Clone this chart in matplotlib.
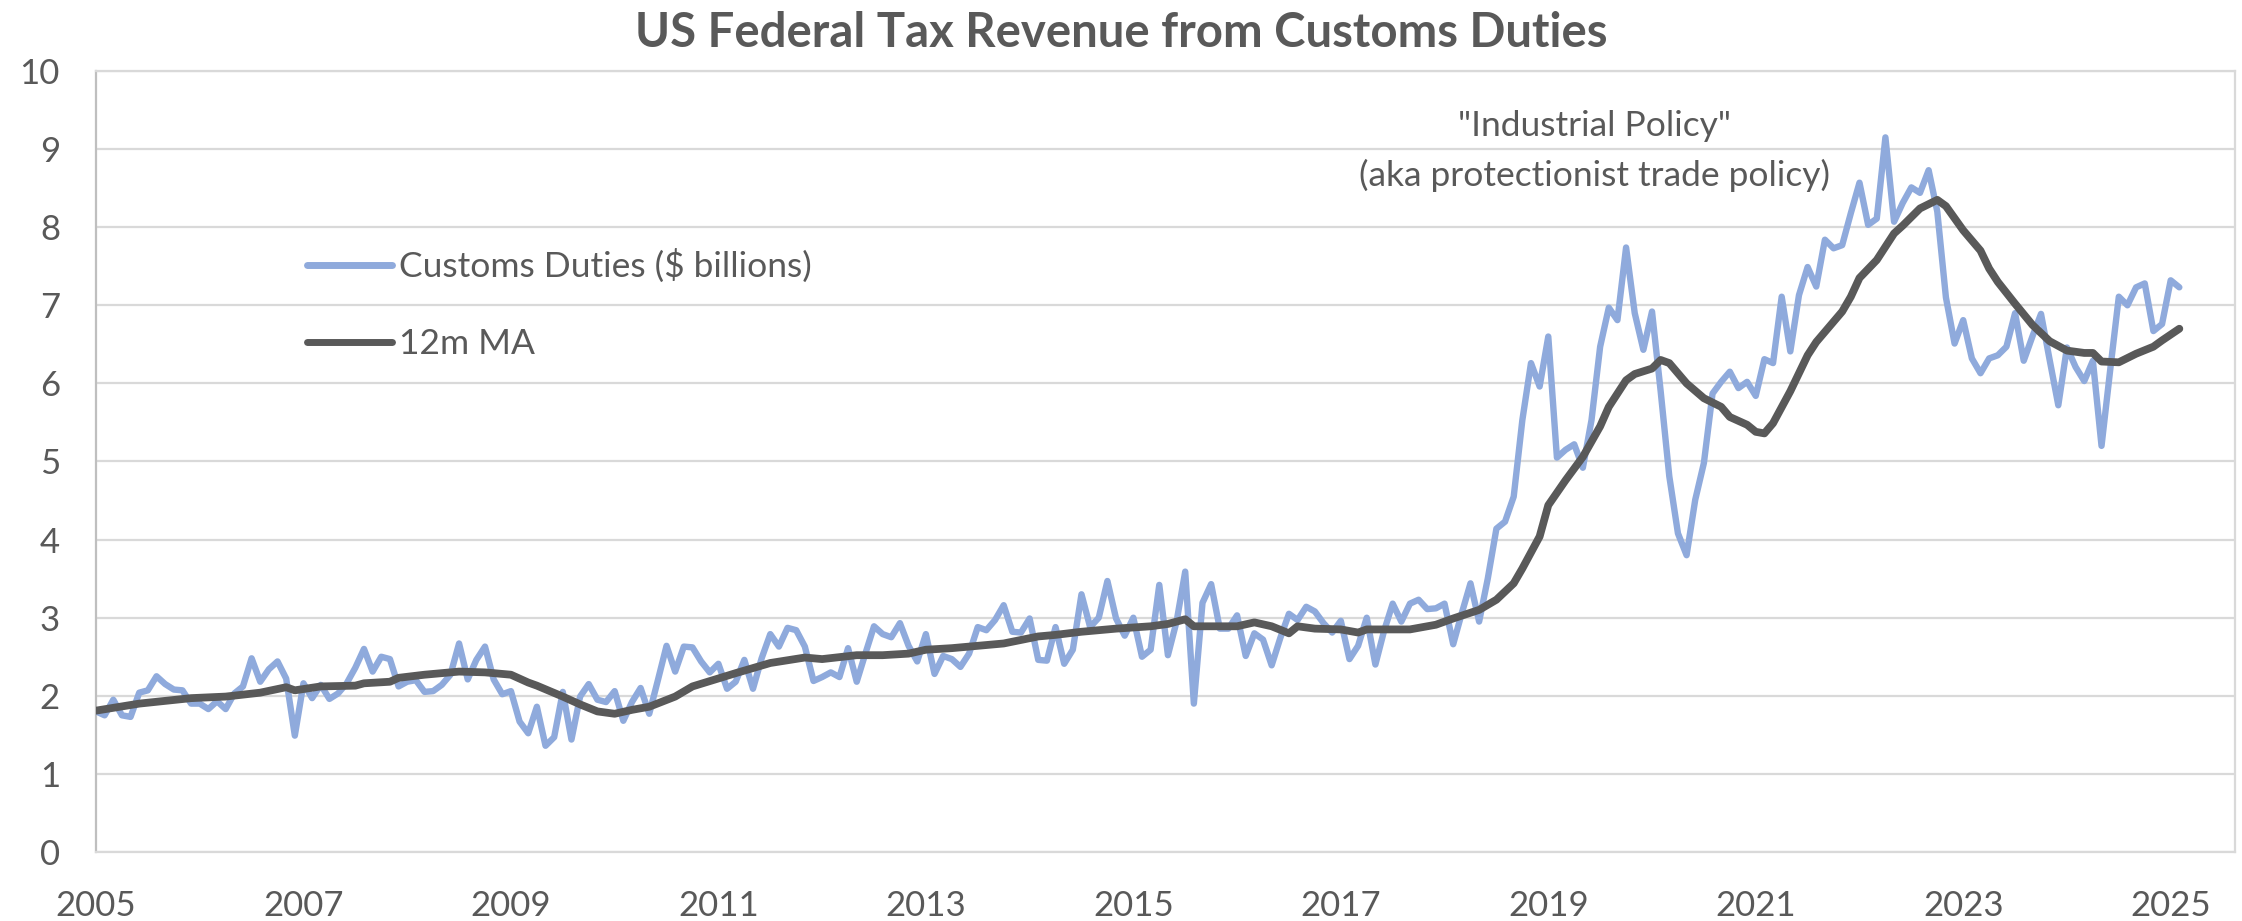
import numpy as np
import pandas as pd
import matplotlib
matplotlib.use("Agg")
import matplotlib.pyplot as plt
from matplotlib.lines import Line2D

# monthly customs duties, $ billions, Jan 2005 .. Feb 2025
customs = [
    1.80, 1.75, 1.95, 1.75, 1.73, 2.04, 2.07, 2.25, 2.15, 2.08, 2.07, 1.90,
    1.90, 1.83, 1.93, 1.83, 2.03, 2.12, 2.48, 2.18, 2.34, 2.44, 2.22, 1.49,
    2.16, 1.97, 2.14, 1.96, 2.03, 2.16, 2.36, 2.60, 2.31, 2.50, 2.47, 2.12,
    2.18, 2.20, 2.05, 2.06, 2.14, 2.27, 2.67, 2.21, 2.46, 2.63, 2.21, 2.02,
    2.06, 1.67, 1.52, 1.86, 1.36, 1.47, 2.05, 1.44, 1.99, 2.15, 1.95, 1.92,
    2.06, 1.68, 1.92, 2.10, 1.77, 2.20, 2.64, 2.31, 2.63, 2.62, 2.44, 2.30,
    2.41, 2.09, 2.18, 2.46, 2.09, 2.48, 2.79, 2.63, 2.87, 2.84, 2.63, 2.19,
    2.24, 2.30, 2.24, 2.61, 2.18, 2.54, 2.89, 2.79, 2.75, 2.93, 2.64, 2.44,
    2.79, 2.28, 2.51, 2.47, 2.37, 2.54, 2.88, 2.84, 2.97, 3.16, 2.82, 2.81,
    2.99, 2.46, 2.45, 2.88, 2.41, 2.59, 3.30, 2.88, 3.00, 3.47, 2.99, 2.77,
    3.00, 2.50, 2.59, 3.42, 2.52, 2.95, 3.59, 1.90, 3.19, 3.43, 2.86, 2.86,
    3.03, 2.51, 2.80, 2.72, 2.39, 2.74, 3.05, 2.97, 3.14, 3.08, 2.93, 2.81,
    2.96, 2.47, 2.64, 3.00, 2.40, 2.83, 3.18, 2.95, 3.18, 3.23, 3.11, 3.12,
    3.18, 2.66, 3.06, 3.44, 2.95, 3.50, 4.14, 4.23, 4.55, 5.53, 6.26, 5.96,
    6.60, 5.05, 5.15, 5.22, 4.92, 5.53, 6.47, 6.97, 6.81, 7.74, 6.90, 6.43,
    6.92, 5.90, 4.81, 4.08, 3.80, 4.51, 4.98, 5.87, 6.02, 6.15, 5.94, 6.02,
    5.84, 6.31, 6.26, 7.11, 6.41, 7.13, 7.49, 7.24, 7.84, 7.73, 7.77, 8.18,
    8.57, 8.03, 8.11, 9.15, 8.07, 8.31, 8.51, 8.44, 8.73, 8.20, 7.10, 6.51,
    6.81, 6.32, 6.13, 6.32, 6.36, 6.47, 6.90, 6.29, 6.60, 6.89, 6.30, 5.72,
    6.46, 6.21, 6.03, 6.29, 5.20, 6.17, 7.11, 7.00, 7.23, 7.28, 6.67, 6.76,
    7.32, 7.23,
]

# 12 month moving average, sampled at months counted from Jan 2005
ma_month = [
    0, 5, 11, 15, 19, 22, 23, 26, 30, 31, 34, 35, 38, 42, 45, 48, 50, 51,
    54, 56, 58, 60, 62, 64, 67, 69, 74, 78, 82, 84, 88, 91, 94, 96, 99, 101,
    105, 109, 111, 114, 118, 122, 124, 126, 127, 132, 134, 136, 138, 139,
    141, 144, 146, 147, 152, 155, 157, 160, 162, 164, 165, 167, 168, 170,
    172, 174, 175, 177, 178, 180, 181, 182, 184, 186, 188, 189, 191, 192,
    193, 194, 196, 198, 199, 202, 203, 204, 206, 208, 209, 211, 213, 214,
    216, 218, 219, 220, 222, 224, 226, 228, 230, 231, 232, 234, 236, 238,
    239, 241,
]
ma_value = [
    1.81, 1.90, 1.97, 1.99, 2.04, 2.11, 2.07, 2.12, 2.13, 2.16, 2.18, 2.23,
    2.27, 2.31, 2.30, 2.27, 2.17, 2.13, 1.99, 1.89, 1.80, 1.77, 1.82, 1.86,
    1.99, 2.12, 2.29, 2.42, 2.49, 2.47, 2.52, 2.52, 2.54, 2.59, 2.61, 2.63,
    2.67, 2.76, 2.78, 2.82, 2.86, 2.89, 2.92, 2.98, 2.89, 2.89, 2.94, 2.89,
    2.80, 2.89, 2.86, 2.85, 2.81, 2.85, 2.85, 2.91, 2.99, 3.10, 3.23, 3.44,
    3.63, 4.04, 4.44, 4.76, 5.06, 5.45, 5.70, 6.04, 6.12, 6.19, 6.30, 6.26,
    6.00, 5.81, 5.70, 5.57, 5.47, 5.38, 5.36, 5.49, 5.90, 6.36, 6.53, 6.92,
    7.11, 7.35, 7.58, 7.92, 8.02, 8.24, 8.35, 8.27, 7.96, 7.70, 7.47, 7.30,
    7.02, 6.75, 6.54, 6.42, 6.39, 6.39, 6.28, 6.27, 6.38, 6.47, 6.55, 6.70,
]

year_ticks = [2005, 2007, 2009, 2011, 2013, 2015, 2017, 2019, 2021, 2023, 2025]
value_ticks = list(range(0, 11))
labels = ["Customs Duties ($ billions)", "12m MA"]
note = ['"Industrial Policy"', "(aka protectionist trade policy)"]

TEXT = "#595959"
GRID = "#d9d9d9"
BLUE = "#8faadc"
plt.rcParams["font.family"] = ["Lato", "DejaVu Sans"]

dates = pd.date_range("2005-01-01", periods=len(customs), freq="MS")
x_cd = dates.year + (dates.month - 1) / 12
x_ma = 2005 + np.array(ma_month) / 12

W, H = 2242, 921
fig = plt.figure(figsize=(W / 100, H / 100), dpi=100)
ax = fig.add_axes([96 / W, 69 / H, 2139 / W, 781 / H])

ax.plot(x_cd, customs, color=BLUE, lw=4.6, solid_joinstyle="round",
        solid_capstyle="round", zorder=3)
ax.plot(x_ma, ma_value, color=TEXT, lw=5.6, solid_joinstyle="round",
        solid_capstyle="round", zorder=4)

ax.set_xlim(2005, 2025.62)
ax.set_ylim(0, 10)
ax.set_xticks(year_ticks)
ax.set_yticks(value_ticks)
ax.yaxis.grid(True, color=GRID, lw=1.6)
ax.set_axisbelow(True)
ax.tick_params(length=0, labelsize=25, labelcolor=TEXT)
ax.tick_params(axis="y", pad=26)
ax.tick_params(axis="x", pad=27)

ax.spines["left"].set_color("#bfbfbf")
ax.spines["left"].set_linewidth(1.6)
for side in ("bottom", "right", "top"):
    ax.spines[side].set_color(GRID)
    ax.spines[side].set_linewidth(1.6)

fig.suptitle("US Federal Tax Revenue from Customs Duties", y=0.988,
             fontsize=34, fontweight="bold", color=TEXT)

handles = [Line2D([], [], color=BLUE, lw=5, solid_capstyle="round"),
           Line2D([], [], color=TEXT, lw=5, solid_capstyle="round")]
ax.legend(handles, labels, loc="upper left",
          bbox_to_anchor=(307 / W, 1 - 249 / H),
          bbox_transform=fig.transFigure, frameon=False, fontsize=25.5,
          labelcolor=TEXT, handlelength=2.4, handletextpad=0.2,
          labelspacing=1.27, borderpad=0, borderaxespad=0)

ax.text(2019.45, 9.30, note[0], ha="center", va="center",
        fontsize=25.5, color=TEXT)
ax.text(2019.45, 8.66, note[1], ha="center", va="center",
        fontsize=25.5, color=TEXT)

fig.savefig("out.png", dpi=100)
